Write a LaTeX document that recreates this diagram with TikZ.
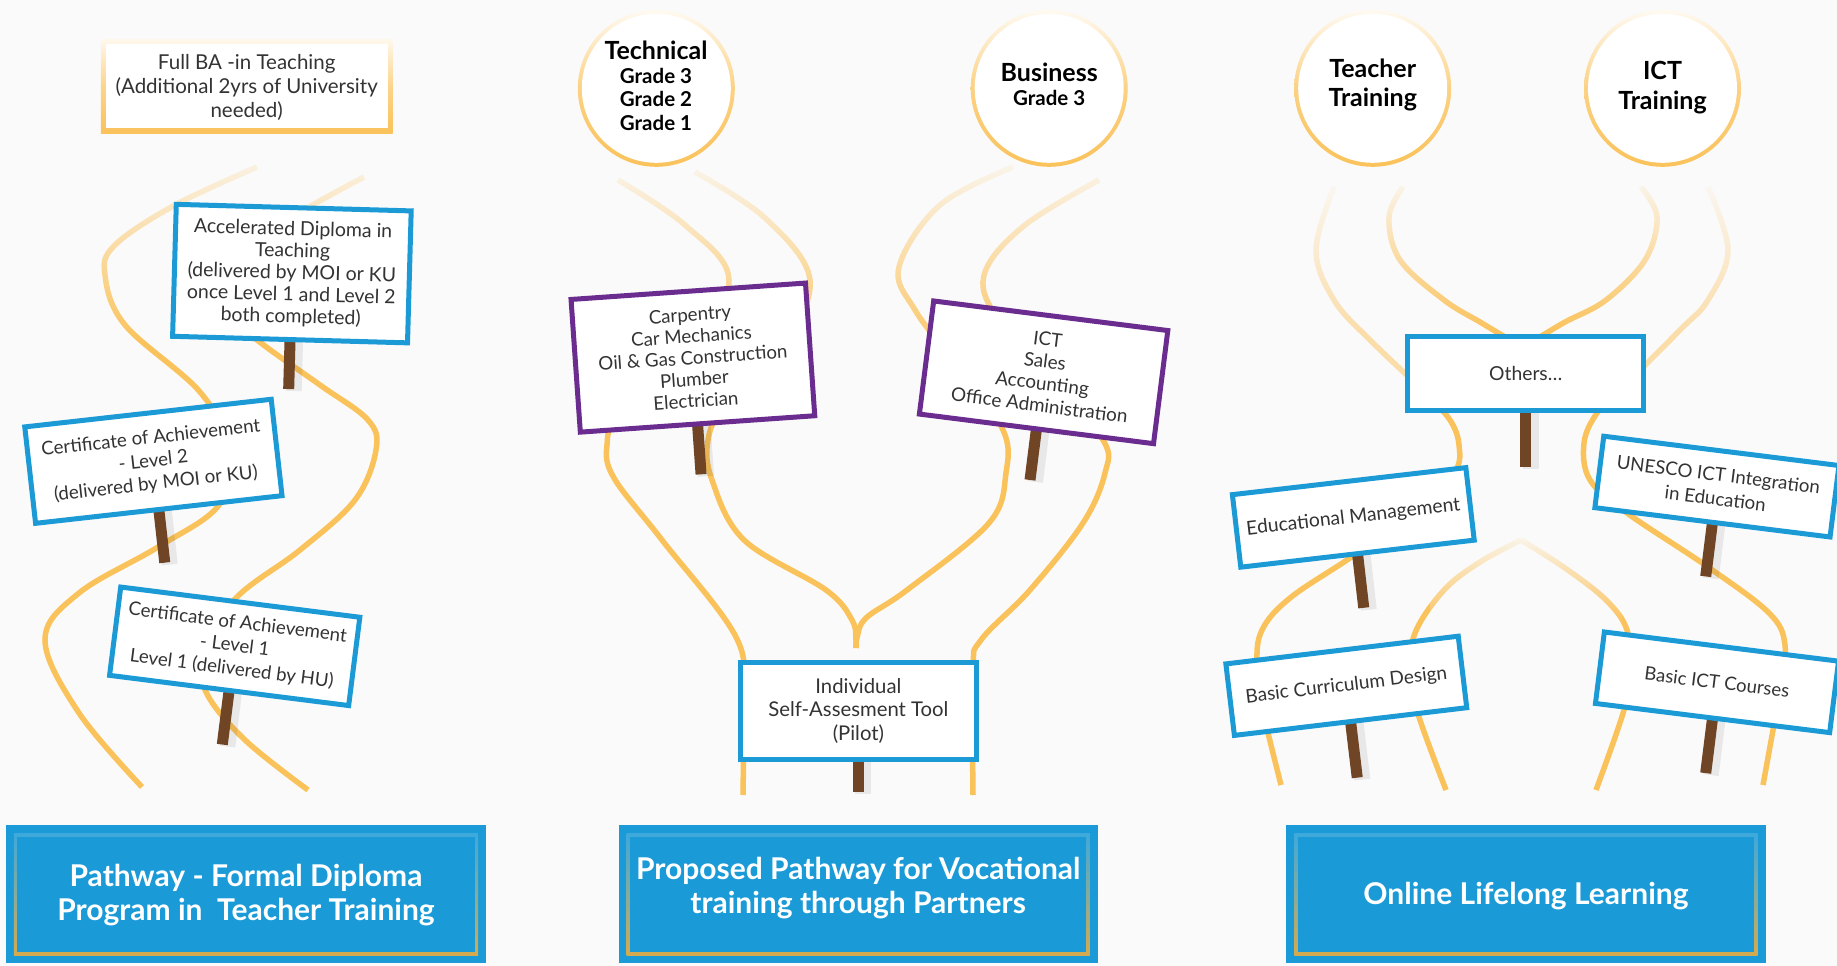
\documentclass[tikz,border=0pt]{standalone}
\usepackage{fontspec}
\setmainfont{Lato}
\usetikzlibrary{fadings,calc}
\definecolor{bgc}{HTML}{FAFAFA}
\definecolor{trailc}{HTML}{FAC25A}
\definecolor{signblue}{HTML}{1B9AD6}
\definecolor{purp}{HTML}{6A2C8E}
\definecolor{postc}{HTML}{6F4525}
\definecolor{txtc}{HTML}{333333}
\definecolor{boxblue}{HTML}{1A9AD6}
\definecolor{framegold}{HTML}{D6AA4E}
\newcommand{\myfs}[2]{\fontsize{#1}{#2}\selectfont}
\tikzfading[name=fogfade, top color=transparent!8, bottom color=transparent!100]
\pgfdeclarelayer{under}
\pgfdeclarelayer{postlayer}
\pgfsetlayers{under,postlayer,main}
\newcommand{\signpost}[2]{%
  \draw[postsh] ([xshift=5pt]#1.center) -- ($(#1.south)!-#2!(#1.north)+(5,2)$);
  \draw[post] (#1.center) -- ($(#1.south)!-#2!(#1.north)$);}
\begin{document}
\begin{tikzpicture}[x=1pt,y=-1pt,
  trail/.style={draw=trailc, line width=5.5pt},
  sign/.style={draw=signblue, line width=5pt, fill=white, align=center, text=txtc, inner sep=0pt, font=\myfs{19}{22}},
  psign/.style={sign, draw=purp},
  post/.style={draw=postc, line width=11pt},
  postsh/.style={draw=black, opacity=0.07, line width=16pt},
  ctitle/.style={anchor=base, text=black, font=\myfs{25}{26}\bfseries},
  csub/.style={anchor=base, text=black, font=\myfs{20.5}{22}\bfseries},
  bbox/.style={text=white, align=center, font=\myfs{30}{34}\bfseries}]
\useasboundingbox (0,0) rectangle (1837,966);
\begin{pgfonlayer}{under}
\fill[bgc] (0,0) rectangle (1837,966);
% left column trails
\draw[trail] plot[smooth, tension=0.6] coordinates {(257,167) (175,205) (115,245) (105,275) (125,325) (200,392) (230,450) (219,505) (158,547) (79,593) (45,640) (79,713) (142,787)};
\draw[trail] plot[smooth, tension=0.6] coordinates {(364,177) (285,222) (222,275) (230,315) (261,343) (320,385) (368,420) (376,450) (355,500) (300,550) (237,597) (202,650) (206,692) (245,740) (308,790)};
% middle column trails
\draw[trail] plot[smooth, tension=0.6] coordinates {(618,180) (685,225) (729,280) (690,360) (620,415) (607,445) (614,478) (662,540) (736,637) (743,700) (743,795)};
\draw[trail] plot[smooth, tension=0.6] coordinates {(695,172) (765,218) (810,280) (780,350) (725,405) (708,440) (712,480) (744,540) (826,590) (852,620) (856,640) (856,648)};
\draw[trail] plot[smooth, tension=0.6] coordinates {(1013,167) (940,205) (899,267) (915,310) (960,370) (1003,430) (1006,473) (989,523) (907,590) (866,618) (857,638) (856,648)};
\draw[trail] plot[smooth, tension=0.6] coordinates {(1099,180) (1025,225) (985,272) (995,315) (1050,380) (1103,440) (1105,473) (1083,523) (1030,590) (981,640) (973,670) (973,795)};
% right column trails
\draw[trail, draw opacity=0.5] plot[smooth, tension=0.6] coordinates {(1334,187) (1316,250) (1334,300) (1370,340) (1425,392)};
\draw[trail] plot[smooth, tension=0.6] coordinates {(1425,392) (1450,420) (1459,445) (1455,472) (1420,510) (1350,558) (1290,598) (1262,630) (1257,665) (1263,710) (1269,737) (1281,785)};
\draw[trail, draw opacity=0.5] plot[smooth, tension=0.6] coordinates {(1708,187) (1728,250) (1708,300) (1680,330) (1620,390)};
\draw[trail] plot[smooth, tension=0.6] coordinates {(1620,390) (1597,413) (1584,443) (1590,480) (1627,513) (1708,567) (1769,613) (1785,645) (1780,690) (1773,730) (1763,785)};
\draw[trail] plot[smooth, tension=0.6] coordinates {(1403,187) (1389,217) (1400,260) (1444,300) (1480,322) (1505,337)};
\draw[trail] plot[smooth, tension=0.6] coordinates {(1641,187) (1657,217) (1645,260) (1606,300) (1565,322) (1540,337)};
\draw[trail] plot[smooth, tension=0.6] coordinates {(1521,540) (1480,562) (1444,590) (1415,633) (1410,675) (1419,717) (1446,790)};
\draw[trail] plot[smooth, tension=0.6] coordinates {(1521,540) (1565,568) (1606,600) (1627,630) (1630,670) (1624,710) (1596,790)};
% fog
\fill[bgc, path fading=fogfade] (30,150) rectangle (420,345);
\fill[bgc, path fading=fogfade] (570,160) rectangle (1130,370);
\fill[bgc, path fading=fogfade] (1290,180) rectangle (1750,335);
\fill[bgc, path fading=fogfade] (1430,535) rectangle (1622,625);
\end{pgfonlayer}
% Full BA box
\shade[top color=trailc!12, bottom color=trailc, middle color=trailc!70] (100.8,39.3) rectangle (392.6,133.3);
\fill[white] (105.8,44.3) rectangle (387.6,128.3);
\node[align=center, text=txtc, font=\myfs{20.5}{24}] (fullba) at (246.7,87.5) {Full BA -in Teaching\\(Additional 2yrs of University\\needed)};
% circles
\coordinate (ctech) at (656.3,88.3);
\coordinate (cbus) at (1049.2,88.3);
\coordinate (cteach) at (1372.7,88.3);
\coordinate (cict) at (1662.5,88.3);
\foreach \c in {ctech,cbus,cteach,cict}{
  \shade[top color=trailc!8, bottom color=trailc, middle color=trailc!75] (\c) circle (78.5);
  \fill[white] (\c) circle (74.5);}
\node[ctitle] (tech1) at (656,59.3) {Technical};
\node[csub] (tech2) at (656,83.3) {Grade 3};
\node[csub] (tech3) at (656,106.7) {Grade 2};
\node[csub] (tech4) at (656,130.7) {Grade 1};
\node[ctitle] (bus1) at (1049.2,81.7) {Business};
\node[csub] (bus2) at (1049.2,106) {Grade 3};
\node[ctitle] (tt1) at (1372.7,77.3) {Teacher};
\node[ctitle] (tt2) at (1372.7,106.7) {Training};
\node[ctitle] (it1) at (1662.5,80) {ICT};
\node[ctitle] (it2) at (1662.5,110) {Training};
% signs
\node[sign, rotate=-1.6, minimum width=235, minimum height=132, font=\myfs{19.5}{21.9}] (acc) at (291.9,273.6) {Accelerated Diploma in\\Teaching\\(delivered by MOI or KU\\once Level 1 and Level 2\\both completed)};
\node[sign, rotate=6.4, minimum width=248, minimum height=97, font=\myfs{18.7}{23}] (cert2) at (153.4,461.3) {Certificate of Achievement\\- Level 2\\(delivered by MOI or KU)};
\node[sign, rotate=-7.2, minimum width=241, minimum height=89, font=\myfs{18.7}{23.3}] (cert1) at (234.7,646.3) {Certificate of Achievement\\- Level 1\\Level 1 (delivered by HU)};
\node[psign, rotate=4, minimum width=235, minimum height=133, font=\myfs{18.7}{21.6}] (carp) at (692.9,357.6) {Carpentry\\Car Mechanics\\Oil \& Gas Construction\\Plumber\\Electrician};
\node[psign, rotate=-7.2, minimum width=236, minimum height=114, font=\myfs{18.9}{22.2}] (ictp) at (1043.6,372.3) {ICT\\Sales\\Accounting\\Office Administration};
\node[sign, minimum width=236, minimum height=97, font=\myfs{20.3}{23.7}] (indiv) at (858.4,710.8) {Individual\\Self-Assesment Tool\\(Pilot)};
\node[sign, minimum width=236, minimum height=74, font=\myfs{19.3}{22}] (others) at (1525.7,373) {Others…};
\node[sign, rotate=6.6, minimum width=235, minimum height=73, font=\myfs{19.3}{22}] (edm) at (1353.3,517.4) {Educational Management};
\node[sign, rotate=-7.1, minimum width=237, minimum height=72, font=\myfs{18.7}{24}] (unesco) at (1716.9,486.6) {UNESCO ICT Integration\\in Education};
\node[sign, rotate=6.8, minimum width=234, minimum height=72, font=\myfs{19}{22}] (bcd) at (1346.3,685.8) {Basic Curriculum Design};
\node[sign, rotate=-7.1, minimum width=236, minimum height=72, font=\myfs{18.5}{22}] (bic) at (1717,682.3) {Basic ICT Courses};
% posts
\begin{pgfonlayer}{postlayer}
\signpost{acc}{47pt}
\signpost{cert2}{51pt}
\signpost{cert1}{52pt}
\signpost{carp}{48pt}
\signpost{ictp}{49pt}
\signpost{indiv}{30pt}
\signpost{others}{54pt}
\signpost{edm}{52pt}
\signpost{unesco}{52pt}
\signpost{bcd}{54pt}
\signpost{bic}{53pt}
\end{pgfonlayer}
% bottom boxes
\foreach \xa/\xb in {5.9/486.2, 618.6/1097.8, 1286.4/1765.6}{
  \fill[boxblue] (\xa,825) rectangle (\xb,963.3);
  \shade[top color=boxblue!85!white, bottom color=framegold, middle color=framegold!50!boxblue!90!white] ({\xa+8},833) rectangle ({\xb-8},955.3);
  \fill[boxblue] ({\xa+11.5},836.5) rectangle ({\xb-11.5},951.8);}
\node[bbox] (t1) at (246,895.5) {Pathway - Formal Diploma\\Program in\ \ Teacher Training};
\node[bbox] (t2) at (858.2,888) {Proposed Pathway for Vocational\\training through Partners};
\node[bbox] (t3) at (1526,896) {Online Lifelong Learning};
\end{tikzpicture}
\end{document}
